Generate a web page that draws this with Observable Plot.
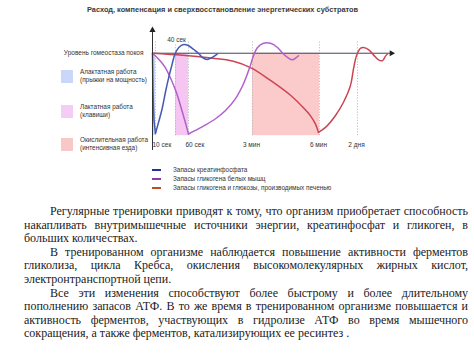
<!DOCTYPE html>
<html><head><meta charset="utf-8">
<script src="https://cdn.jsdelivr.net/npm/d3@7"></script>
<script src="https://cdn.jsdelivr.net/npm/@observablehq/plot@0.6"></script>
<style>
body{margin:0;background:#fff;}
#wrap{position:relative;width:474px;height:355px;overflow:hidden;font-family:"Liberation Sans",Arial,sans-serif;color:#333;}
#chart{position:absolute;left:0;top:0;}
.title{position:absolute;left:87px;top:5px;font-size:7.4px;font-weight:bold;white-space:nowrap;line-height:10px;color:#3a3a3a;}
.sw{position:absolute;width:12px;height:13px;}
.lt{position:absolute;font-size:6.4px;line-height:8px;white-space:nowrap;color:#333;}
.ll{position:absolute;width:9px;height:2px;}
#text{position:absolute;left:24px;top:205px;width:444px;font-family:"Liberation Serif","Times New Roman",serif;font-size:12px;color:#222;}
#text div{height:13.6px;line-height:13.6px;white-space:nowrap;}
#text .j{text-align:justify;text-align-last:justify;}
#text .in{padding-left:26px;}
</style></head><body><div id="wrap"><div id="chart"></div></div>
<script>
// ---- data ----
const seriesNames = ["Запасы креатинфосфата","Запасы гликогена белых мышц","Запасы гликогена и глюкозы, производимых печенью"];
const workNames = [["Алактатная работа","(прыжки на мощность)"],["Лактатная работа","(клавиши)"],["Окислительная работа","(интенсивная езда)"]];
const restLabel = "Уровень гомеостаза покоя";
const titleText = "Расход, компенсация и сверхвосстановление энергетических субстратов";
const markerLabels = ["10 сек","40 сек","60 сек","3 мин","6 мин","2 дня"];
const markerTimes = [3,23,36,100,167,205];
const bandStart = [0,23,100];
const bandEnd = [3,36,167];
// curves: [time position, % of resting level]
const creatineDown = [[0,100],[0.3,72],[0.8,42],[1.6,18],[3,3]];
const creatineUp = [[3,3],[6,16],[9.7,33],[13,53],[16.3,71],[19.7,87],[22.3,98.5],[26.3,107],[31.3,110.6],[35.7,109.4],[41.3,104.5],[46,100],[49.7,95],[54.7,92.5],[59.7,95],[64.7,99]];
const glycogenDown = [[0,100],[6,93],[12,84],[18,70],[24,52],[30,28],[34,11],[36,2]];
const glycogenUp = [[36,2],[43,6.5],[53,13],[63,20.5],[73,30.5],[83,45],[91,63],[97,82],[101,97],[105,107],[111,112],[118,112],[125,107],[131,99],[136,94],[140,92],[143,94],[146,97]];
const liverDown = [[0,100],[30,97.5],[60,94],[80,90.5],[99,82],[118,67],[138,49],[150,35],[158,24],[163,14],[166,4]];
const liverUp = [[166,4],[173,10],[183,24.5],[191,40.5],[198,61],[201,81],[204,97],[208,106],[211,107],[216,104.5],[221,98],[226,92],[230,91],[233,96.5],[235,99]];
const textLines = [
 ["Регулярные тренировки приводят к тому, что организм приобретает способность","in j"],
 ["накапливать внутримышечные источники энергии, креатинфосфат и гликоген, в","j"],
 ["больших количествах.",""],
 ["В тренированном организме наблюдается повышение активности ферментов","in j"],
 ["гликолиза, цикла Кребса, окисления высокомолекулярных жирных кислот,","j"],
 ["электронтранспортной цепи.",""],
 ["Все эти изменения способствуют более быстрому и более длительному","in j"],
 ["пополнению запасов АТФ. В то же время в тренированном организме повышается и","j"],
 ["активность ферментов, участвующих в гидролизе АТФ во время мышечного","j"],
 ["сокращения, а также ферментов, катализирующих ее ресинтез .",""]
];

const lineColors = ["#4459b4","#b25fcc","#cc4452"];
const legendColors = ["#23329c","#8c3ca4","#c24c22"];
const bandColors = ["#c9d8f8","#f6c6f3","#fbcaca"];
const swatchColors = ["#c9d8f8","#f5ccf5","#f8c8c8"];

const bands = bandStart.map((s,i)=>({x1:s,x2:bandEnd[i],fill:bandColors[i]}));
const markers = markerLabels.map((l,i)=>({label:l,t:markerTimes[i]}));
const L = (arr)=>arr.map(([t,v])=>({t,v}));

const lineOpts = (c)=>({x:"t",y:"v",stroke:c,strokeWidth:1.5,curve:"catmull-rom"});

const plot = Plot.plot({
  width:474,height:200,
  marginLeft:152,marginRight:81,marginTop:28,marginBottom:50,
  x:{domain:[0,241],axis:null},
  y:{domain:[-18,130],axis:null},
  style:{fontFamily:"'Liberation Sans',Arial,sans-serif",fontSize:"6.5px",color:"#333",background:"transparent"},
  marks:[
    Plot.rect(bands,{x1:"x1",x2:"x2",y1:0,y2:100,fill:"fill"}),
    Plot.ruleX(markers.filter(d=>d.label!=="40 сек"),{x:"t",y1:0,y2:115,stroke:"#b0b0b0",strokeDasharray:"1.2,1.6",strokeWidth:0.8}),
    Plot.ruleX(markers.filter(d=>d.label==="40 сек"),{x:"t",y1:0,y2:110,stroke:"#b0b0b0",strokeDasharray:"1.2,1.6",strokeWidth:0.8}),
    Plot.ruleY([100],{x1:0,x2:239,stroke:"#3c4660",strokeWidth:1}),
    Plot.line(L(liverDown),lineOpts(lineColors[2])),
    Plot.line(L(liverUp),lineOpts(lineColors[2])),
    Plot.line(L(glycogenDown),lineOpts(lineColors[1])),
    Plot.line(L(glycogenUp),lineOpts(lineColors[1])),
    Plot.line(L(creatineDown),lineOpts(lineColors[0])),
    Plot.line(L(creatineUp),lineOpts(lineColors[0])),
    Plot.ruleX([0],{y1:-18,y2:127,stroke:"#333",strokeWidth:1}),
    Plot.dot([0],{x:0,y:128,symbol:"triangle",r:2.3,fill:"#222",stroke:null}),
    Plot.dot([0],{x:239,y:100,symbol:"triangle",r:2.3,fill:"#222",stroke:null,rotate:90}),
    Plot.axisY([100],{anchor:"left",label:null,tickSize:0,tickPadding:9,tickFormat:()=>restLabel,fontSize:6.5}),
    Plot.text(markers.filter(d=>d.t<40&&d.label!=="40 сек"),{x:"t",y:-11,text:"label",textAnchor:"start",dx:-3,fontSize:6.5,fill:"#333"}),
    Plot.text(markers.filter(d=>d.t>=40),{x:"t",y:-11,text:"label",textAnchor:"middle",dx:-1,fontSize:6.5,fill:"#333"}),
    Plot.text(markers.filter(d=>d.label==="40 сек"),{x:"t",y:116.5,text:"label",textAnchor:"middle",dx:1,fontSize:6.5,fill:"#333"})
  ]
});
const wrap = document.getElementById("wrap");
document.getElementById("chart").appendChild(plot);

const title = document.createElement("div");
title.className="title"; title.textContent=titleText; wrap.appendChild(title);

const swTops=[70,105,138];
workNames.forEach((w,i)=>{
  const s=document.createElement("div"); s.className="sw";
  s.style.left="61px"; s.style.top=swTops[i]+"px"; s.style.background=swatchColors[i]; wrap.appendChild(s);
  const t=document.createElement("div"); t.className="lt";
  t.style.left="80px"; t.style.top=(swTops[i]-2)+"px"; t.innerHTML=w[0]+"<br>"+w[1]; wrap.appendChild(t);
});
const legTops=[170,179,188];
seriesNames.forEach((n,i)=>{
  const l=document.createElement("div"); l.className="ll";
  l.style.left="152px"; l.style.top=(legTops[i]-1)+"px"; l.style.background=legendColors[i]; wrap.appendChild(l);
  const t=document.createElement("div"); t.className="lt";
  t.style.left="173px"; t.style.top=(legTops[i]-4)+"px"; t.textContent=n; wrap.appendChild(t);
});

const tx=document.createElement("div"); tx.id="text";
textLines.forEach(([s,c])=>{const d=document.createElement("div"); d.className=c; d.textContent=s; tx.appendChild(d);});
wrap.appendChild(tx);
</script></body></html>
